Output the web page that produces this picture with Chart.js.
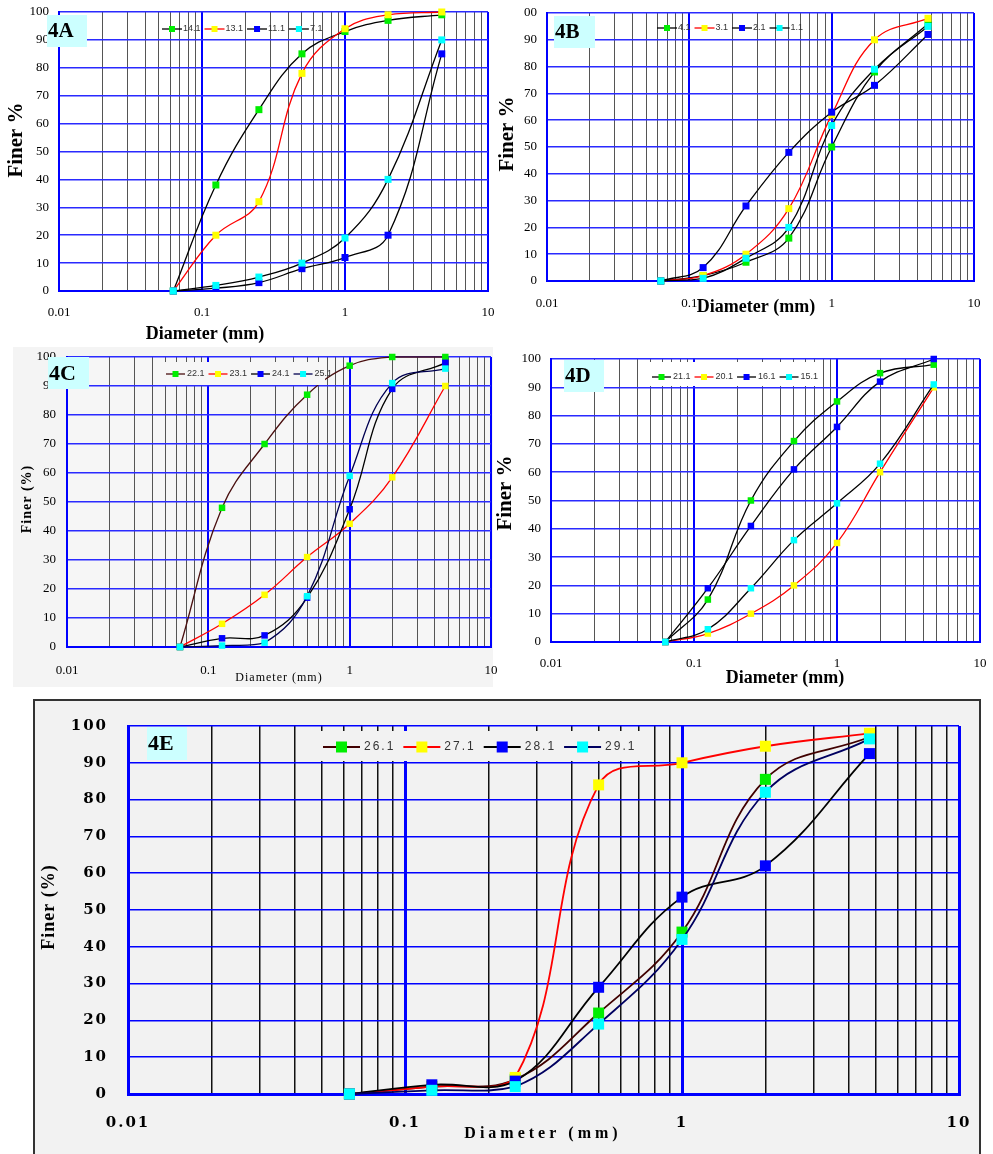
<!DOCTYPE html>
<html lang="en">
<head>
  <meta charset="UTF-8" />
  <title>Grain size distribution – 4A to 4E</title>
  <script src="https://cdn.jsdelivr.net/npm/chart.js"></script>
  <style>
    body {
      margin: 0;
      width: 993px;
      height: 1154px;
      background: #fff;
      position: relative;
      overflow: hidden;
    }
    canvas, .bg { position: absolute; }
  </style>
</head>
<body>

  <div class="bg" style="left:13px;top:347px;width:480px;height:340px;background:#f4f4f4"></div>
  <div class="bg" style="left:33px;top:699px;width:944px;height:470px;background:#f2f2f2;border:2px solid #333"></div>

  <canvas id="c4A" width="500" height="345" style="left:0;top:0"></canvas>
  <canvas id="c4B" width="498" height="345" style="left:495px;top:0"></canvas>
  <canvas id="c4C" width="500" height="345" style="left:0;top:345px"></canvas>
  <canvas id="c4D" width="498" height="345" style="left:495px;top:345px"></canvas>
  <canvas id="c4E" width="963" height="459" style="left:30px;top:695px"></canvas>

  <script>
    // sieve sizes (mm) shared by all samples
    const sieveSizes = [0.063, 0.125, 0.25, 0.5, 1, 2, 4.75];
    const xDecades = [0.01, 0.1, 1, 10];
    const xTickLabels = ['0.01', '0.1', '1', '10'];

    // 4A
    const s14_1 = [0, 38, 65, 85, 93, 97, 99];
    const s13_1 = [0, 20, 32, 78, 94, 99, 100];
    const s11_1 = [0, 1, 3, 8, 12, 20, 85];
    const s7_1  = [0, 2, 5, 10, 19, 40, 90];
    // 4B
    const s4_1 = [0, 2, 7, 16, 50, 78, 96];
    const s3_1 = [0, 2, 10, 27, 62, 90, 98];
    const s2_1 = [0, 5, 28, 48, 63, 73, 92];
    const s1_1 = [0, 1, 8.5, 20, 58, 79, 95];
    // 4C
    const s22_1 = [0, 48, 70, 87, 97, 100, 100];
    const s23_1 = [0, 8, 18, 31, 42.5, 58.5, 90];
    const s24_1 = [0, 3, 4, 17, 47.5, 89, 98];
    const s25_1 = [0, 0.5, 1.5, 17.5, 59, 91, 96];
    // 4D
    const s21_1 = [0, 15, 50, 71, 85, 95, 98];
    const s20_1 = [0, 3, 10, 20, 35, 60, 90];
    const s16_1 = [0, 19, 41, 61, 76, 92, 100];
    const s15_1 = [0, 4.5, 19, 36, 49, 63, 91];
    // 4E
    const s26_1 = [0, 2, 4, 22, 44, 85.5, 97];
    const s27_1 = [0, 2, 4.5, 84, 90, 94.5, 98];
    const s28_1 = [0, 2.5, 3.5, 29, 53.5, 62, 92.5];
    const s29_1 = [0, 1, 2, 19, 42, 82, 96.5];

    const GREEN = '#00ee00', YELLOW = '#ffff00', BLUE = '#0000ff', CYAN = '#00ffff';
    const SERIF = "'Liberation Serif', 'Times New Roman', serif";
    const SANS = "'Liberation Sans', Arial, sans-serif";

    const xGridValues = [];
    xDecades.slice(0, -1).forEach(d => {
      for (let k = 1; k < 10; k++) xGridValues.push(+(d * k).toPrecision(6));
    });
    xGridValues.push(xDecades[xDecades.length - 1]);

    const decadeIndex = v => xDecades.findIndex(d => Math.abs(d - v) < d * 1e-6);

    const X_H = 40;

    const panelDecor = {
      id: 'panelDecor',
      beforeDraw(chart, args, o) {
        const { ctx, chartArea: a } = chart;
        if (o.plotBg) {
          ctx.save();
          ctx.fillStyle = o.plotBg;
          ctx.fillRect(a.left, a.top, a.right - a.left, a.bottom - a.top);
          ctx.restore();
        }
        ctx.letterSpacing = o.tickSpacing || '0px';
      },
      afterDraw(chart, args, o) {
        const ctx = chart.ctx;
        const ox = o.box.left, oy = o.box.top;
        ctx.save();

        // legend
        const L = o.legend;
        if (L.box) {
          ctx.fillStyle = L.box.fill;
          ctx.fillRect(L.box.x - ox, L.box.y - oy, L.box.w, L.box.h);
        }
        let x = L.x - ox;
        const y = L.y - oy;
        ctx.font = L.font;
        ctx.letterSpacing = L.spacing || '0px';
        ctx.textBaseline = 'middle';
        ctx.textAlign = 'left';
        chart.data.datasets.forEach(ds => {
          ctx.strokeStyle = ds.borderColor;
          ctx.lineWidth = L.lineWidth;
          ctx.beginPath();
          ctx.moveTo(x, y);
          ctx.lineTo(x + L.lineLen, y);
          ctx.stroke();
          ctx.fillStyle = ds.pointBackgroundColor;
          ctx.fillRect(x + L.lineLen / 2 - L.marker / 2, y - L.marker / 2, L.marker, L.marker);
          x += L.lineLen + L.textGap;
          ctx.fillStyle = L.color;
          ctx.fillText(ds.label, x, y);
          x += ctx.measureText(ds.label).width + L.itemGap;
        });

        // axis titles
        ctx.fillStyle = '#000';
        ctx.textAlign = 'center';
        const yt = o.yTitle;
        ctx.save();
        ctx.translate(yt.x - ox, yt.y - oy);
        ctx.rotate(-Math.PI / 2);
        ctx.font = yt.font;
        ctx.letterSpacing = yt.spacing || '0px';
        ctx.fillText(yt.text, 0, 0);
        ctx.restore();
        const xt = o.xTitle;
        ctx.font = xt.font;
        ctx.letterSpacing = xt.spacing || '0px';
        ctx.fillText(xt.text, xt.x - ox, xt.y - oy);

        // panel tag
        const t = o.tag;
        ctx.letterSpacing = '0px';
        ctx.fillStyle = '#ccffff';
        ctx.fillRect(t.x - ox, t.y - oy, t.w, t.h);
        ctx.fillStyle = '#000';
        ctx.textAlign = 'left';
        ctx.font = t.font;
        ctx.fillText(t.text, t.x - ox + 1, t.y - oy + t.h / 2 + 1);
        ctx.restore();
      }
    };

    function makePanel(cfg) {
      const b = cfg.box, a = cfg.area, g = cfg.grid;
      const yW = cfg.yW || 50;
      new Chart(document.getElementById(cfg.id), {
        type: 'line',
        data: {
          datasets: cfg.series.map((s, i) => ({
            label: s.label,
            data: sieveSizes.map((d, j) => ({ x: d, y: s.values[j] })),
            borderColor: s.line,
            borderWidth: cfg.lineWidth,
            pointStyle: 'rect',
            pointRadius: cfg.markerSize * Math.SQRT1_2,
            pointBackgroundColor: s.marker,
            pointBorderWidth: 0,
            tension: 0.4,
            fill: false,
            clip: false,
            order: -i
          }))
        },
        options: {
          responsive: false,
          animation: false,
          events: [],
          layout: {
            padding: {
              left: a.l - b.left - yW,
              top: a.t - b.top,
              right: b.left + b.width - a.r,
              bottom: b.top + b.height - a.b - X_H
            }
          },
          plugins: {
            legend: { display: false },
            tooltip: { enabled: false },
            panelDecor: {
              box: b,
              plotBg: cfg.plotBg,
              tickSpacing: cfg.tickSpacing,
              legend: cfg.legend,
              yTitle: cfg.yTitle,
              xTitle: cfg.xTitle,
              tag: cfg.tag
            }
          },
          scales: {
            x: {
              type: 'logarithmic',
              min: xDecades[0],
              max: xDecades[xDecades.length - 1],
              afterBuildTicks: s => { s.ticks = xGridValues.map(v => ({ value: v })); },
              afterFit: s => {
                s.height = X_H;
                s.paddingLeft = 0;
                s.paddingRight = 0;
              },
              ticks: {
                autoSkip: false,
                maxRotation: 0,
                minRotation: 0,
                padding: cfg.xPad,
                color: '#000',
                font: cfg.tickFont,
                callback: v => {
                  const i = decadeIndex(v);
                  return i < 0 ? '' : xTickLabels[i];
                }
              },
              grid: {
                drawTicks: false,
                color: c => (c.tick && decadeIndex(c.tick.value) >= 0) ? g.major : g.minor,
                lineWidth: c => (c.tick && decadeIndex(c.tick.value) >= 0) ? g.majorW : g.minorW
              },
              border: { color: g.major, width: g.borderW }
            },
            y: {
              min: 0,
              max: 100,
              afterFit: s => {
                s.width = yW;
                s.paddingTop = 0;
                s.paddingBottom = 0;
              },
              ticks: {
                stepSize: 10,
                padding: cfg.yPad,
                color: '#000',
                font: cfg.tickFont,
                callback: v => (v === 100 && cfg.yTopLabel) ? cfg.yTopLabel : String(v)
              },
              grid: { drawTicks: false, color: g.h, lineWidth: g.hW },
              border: { color: g.major, width: g.borderW }
            }
          }
        },
        plugins: [panelDecor]
      });
    }

    const smallGrid = { major: '#0000ff', majorW: 2, minor: '#555', minorW: 1, h: '#2a2aff', hW: 1.5, borderW: 2 };
    const smallTick = { family: SERIF, size: 13 };
    const smallLegend = { lineLen: 20, textGap: 1, itemGap: 4, marker: 6, lineWidth: 1.3, font: '9px ' + SANS, color: '#333' };

    makePanel({
      id: 'c4A',
      box: { left: 0, top: 0, width: 500, height: 345 },
      area: { l: 59, t: 12, r: 488, b: 291 },
      grid: smallGrid, tickFont: smallTick, yPad: 10, xPad: 14,
      lineWidth: 1.3, markerSize: 7,
      series: [
        { label: '14.1', values: s14_1, line: '#000', marker: GREEN },
        { label: '13.1', values: s13_1, line: '#ff0000', marker: YELLOW },
        { label: '11.1', values: s11_1, line: '#000', marker: BLUE },
        { label: '7.1', values: s7_1, line: '#000', marker: CYAN }
      ],
      legend: Object.assign({ x: 162, y: 29 }, smallLegend),
      yTitle: { text: 'Finer %', x: 17, y: 140, font: 'bold 21px ' + SERIF },
      xTitle: { text: 'Diameter (mm)', x: 205, y: 334, font: 'bold 18px ' + SERIF },
      tag: { text: '4A', x: 47, y: 15, w: 40, h: 32, font: 'bold 21px ' + SERIF }
    });

    makePanel({
      id: 'c4B',
      box: { left: 495, top: 0, width: 498, height: 345 },
      area: { l: 547, t: 13, r: 974, b: 281 },
      grid: smallGrid, tickFont: smallTick, yPad: 10, xPad: 15, yTopLabel: '00',
      lineWidth: 1.3, markerSize: 7,
      series: [
        { label: '4.1', values: s4_1, line: '#000', marker: GREEN },
        { label: '3.1', values: s3_1, line: '#ff0000', marker: YELLOW },
        { label: '2.1', values: s2_1, line: '#000', marker: BLUE },
        { label: '1.1', values: s1_1, line: '#000', marker: CYAN }
      ],
      legend: Object.assign({ x: 657, y: 28 }, smallLegend),
      yTitle: { text: 'Finer %', x: 508, y: 134, font: 'bold 21px ' + SERIF },
      xTitle: { text: 'Diameter (mm)', x: 756, y: 307, font: 'bold 18px ' + SERIF },
      tag: { text: '4B', x: 554, y: 16, w: 41, h: 32, font: 'bold 21px ' + SERIF }
    });

    makePanel({
      id: 'c4C',
      box: { left: 0, top: 345, width: 500, height: 345 },
      area: { l: 67, t: 357, r: 491, b: 647 },
      plotBg: '#f6f6f6',
      grid: smallGrid, tickFont: smallTick, yPad: 11, xPad: 16,
      lineWidth: 1.3, markerSize: 6.5,
      series: [
        { label: '22.1', values: s22_1, line: '#4a1010', marker: GREEN },
        { label: '23.1', values: s23_1, line: '#ff0000', marker: YELLOW },
        { label: '24.1', values: s24_1, line: '#000', marker: BLUE },
        { label: '25.1', values: s25_1, line: '#000050', marker: CYAN }
      ],
      legend: Object.assign({}, smallLegend, {
        x: 166, y: 374, lineLen: 19, textGap: 2,
        box: { x: 158, y: 362, w: 167, h: 23, fill: '#f6f6f6' }
      }),
      yTitle: { text: 'Finer (%)', x: 27, y: 499, font: 'bold 14px ' + SERIF, spacing: '1px' },
      xTitle: { text: 'Diameter (mm)', x: 279, y: 678, font: '12px ' + SERIF, spacing: '1px' },
      tag: { text: '4C', x: 48, y: 357, w: 41, h: 32, font: 'bold 22px ' + SERIF }
    });

    makePanel({
      id: 'c4D',
      box: { left: 495, top: 345, width: 498, height: 345 },
      area: { l: 551, t: 359, r: 980, b: 642 },
      grid: smallGrid, tickFont: smallTick, yPad: 10, xPad: 14,
      lineWidth: 1.3, markerSize: 6.5,
      series: [
        { label: '21.1', values: s21_1, line: '#000', marker: GREEN },
        { label: '20.1', values: s20_1, line: '#ff0000', marker: YELLOW },
        { label: '16.1', values: s16_1, line: '#000', marker: BLUE },
        { label: '15.1', values: s15_1, line: '#000', marker: CYAN }
      ],
      legend: Object.assign({}, smallLegend, {
        x: 652, y: 377, lineLen: 19, textGap: 2,
        box: { x: 645, y: 362, w: 175, h: 24, fill: '#fff' }
      }),
      yTitle: { text: 'Finer %', x: 506, y: 493, font: 'bold 21px ' + SERIF },
      xTitle: { text: 'Diameter (mm)', x: 785, y: 678, font: 'bold 18px ' + SERIF },
      tag: { text: '4D', x: 564, y: 360, w: 40, h: 32, font: 'bold 21px ' + SERIF }
    });

    makePanel({
      id: 'c4E',
      box: { left: 30, top: 695, width: 963, height: 459 },
      area: { l: 128, t: 726, r: 959, b: 1094 },
      yW: 80,
      plotBg: '#f2f2f2',
      grid: { major: '#0000ff', majorW: 3, minor: '#111', minorW: 1.5, h: '#0000ff', hW: 1.5, borderW: 3 },
      tickFont: { family: "'DejaVu Serif', serif", size: 15, weight: 'bold' },
      tickSpacing: '2px',
      yPad: 20, xPad: 20,
      lineWidth: 1.8, markerSize: 11,
      series: [
        { label: '26.1', values: s26_1, line: '#400000', marker: GREEN },
        { label: '27.1', values: s27_1, line: '#ff0000', marker: YELLOW },
        { label: '28.1', values: s28_1, line: '#000', marker: BLUE },
        { label: '29.1', values: s29_1, line: '#000060', marker: CYAN }
      ],
      legend: {
        x: 323, y: 747, lineLen: 37, textGap: 4, itemGap: 8, marker: 11, lineWidth: 2,
        font: '12px ' + SANS, spacing: '2px', color: '#333',
        box: { x: 315, y: 731, w: 332, h: 30, fill: '#f2f2f2' }
      },
      yTitle: { text: 'Finer (%)', x: 49, y: 907, font: 'bold 18px ' + SERIF, spacing: '1px' },
      xTitle: { text: 'Diameter (mm)', x: 543, y: 1134, font: 'bold 16px ' + SERIF, spacing: '4px' },
      tag: { text: '4E', x: 147, y: 727, w: 40, h: 33, font: 'bold 22px ' + SERIF }
    });
  </script>
</body>
</html>
